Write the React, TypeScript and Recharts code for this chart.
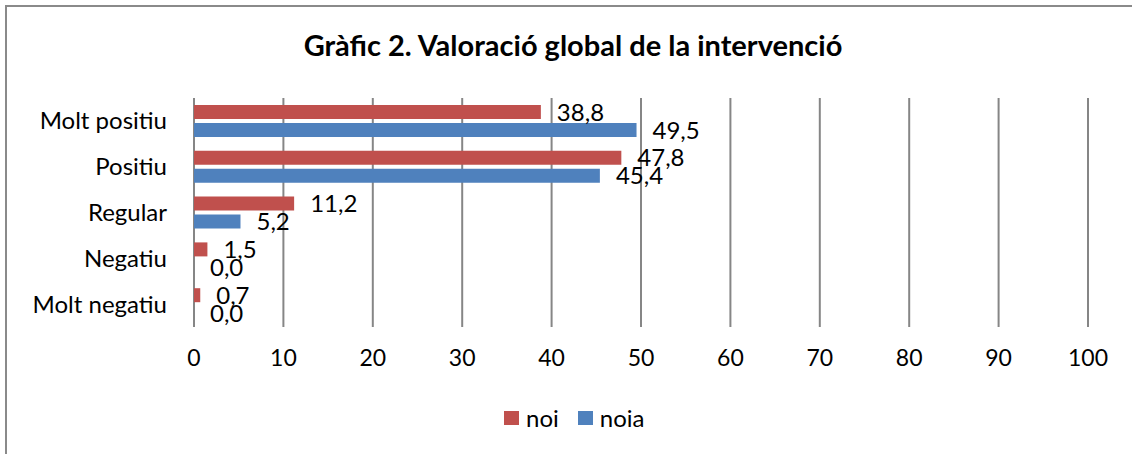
import { BarChart, Bar, XAxis, YAxis, CartesianGrid, LabelList } from 'recharts';

const categories = ['Molt positiu', 'Positiu', 'Regular', 'Negatiu', 'Molt negatiu'];
const noi = [38.8, 47.8, 11.2, 1.5, 0.7];
const noia = [49.5, 45.4, 5.2, 0.0, 0.0];
const xTicks = [0, 10, 20, 30, 40, 50, 60, 70, 80, 90, 100];

const data = categories.map((name, i) => ({ name, noi: noi[i], noia: noia[i] }));

const RED = '#C0504D';
const BLUE = '#4F81BD';
const FONT = 'Lato, "Open Sans", sans-serif';

const fmt = (v: unknown) => (typeof v === 'number' ? v.toFixed(1).replace('.', ',') : String(v ?? ''));

export default function App() {
  return (
    <div
      style={{
        position: 'absolute',
        top: 0,
        left: 0,
        width: 1132,
        height: 454,
        background: '#fff',
        fontFamily: FONT,
        overflow: 'hidden',
      }}
    >
      {/* chart frame, cut off at right and bottom like the source */}
      <div
        style={{
          position: 'absolute',
          left: 5,
          top: 5,
          width: 1200,
          height: 500,
          borderTop: '2px solid #8a8a8a',
          borderLeft: '2px solid #8a8a8a',
        }}
      />
      <div
        style={{
          position: 'absolute',
          top: 27,
          left: 0,
          width: 1146,
          textAlign: 'center',
          fontWeight: 'bold',
          fontSize: 29,
          color: '#000',
        }}
      >
        Gràfic 2. Valoració global de la intervenció
      </div>
      <BarChart
        width={1132}
        height={454}
        data={data}
        layout="vertical"
        margin={{ top: 98, right: 44, left: 0, bottom: 87 }}
        barSize={14}
        barGap={4}
      >
        <CartesianGrid horizontal={false} vertical stroke="#868686" strokeWidth={2} />
        <XAxis
          type="number"
          domain={[0, 100]}
          ticks={xTicks}
          interval={0}
          axisLine={false}
          tickLine={false}
          tickSize={0}
          tickMargin={23}
          height={40}
          tick={{ fontSize: 23, fill: '#000', fontFamily: FONT }}
        />
        <YAxis
          type="category"
          dataKey="name"
          width={194}
          axisLine={false}
          tickLine={false}
          tickSize={0}
          tickMargin={27}
          tick={{ fontSize: 24, fill: '#000', fontFamily: FONT }}
        />
        <Bar dataKey="noi" fill={RED} minPointSize={0.01} isAnimationActive={false}>
          <LabelList dataKey="noi" position="right" offset={16} formatter={fmt} fill="#000" fontSize={24} fontFamily={FONT} />
        </Bar>
        <Bar dataKey="noia" fill={BLUE} minPointSize={0.01} isAnimationActive={false}>
          <LabelList dataKey="noia" position="right" offset={16} formatter={fmt} fill="#000" fontSize={24} fontFamily={FONT} />
        </Bar>
      </BarChart>
      <div
        style={{
          position: 'absolute',
          top: 403,
          left: 504,
          display: 'flex',
          alignItems: 'center',
          fontSize: 24,
          color: '#000',
        }}
      >
        <span style={{ display: 'inline-block', width: 15, height: 14, background: RED, marginRight: 7 }} />
        <span style={{ marginRight: 19 }}>noi</span>
        <span style={{ display: 'inline-block', width: 15, height: 14, background: BLUE, marginRight: 7 }} />
        <span>noia</span>
      </div>
    </div>
  );
}
